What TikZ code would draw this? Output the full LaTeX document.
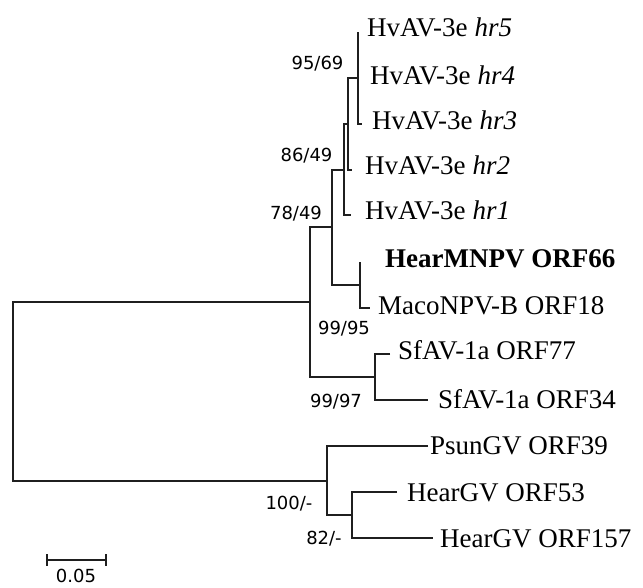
\documentclass[tikz,border=0pt]{standalone}
\usepackage{fontspec}
\setmainfont{Liberation Serif}
\newfontfamily\bootfont{DejaVu Sans}
\begin{document}
\begin{tikzpicture}[x=1pt,y=-1pt,
  br/.style={line width=2pt, draw=black!88, line join=miter},
  leaf/.style={anchor=base west, inner sep=0pt, font=\fontsize{27}{30}\selectfont},
  boot/.style={anchor=base, inner sep=0pt, font=\bootfont\fontsize{18}{20}\selectfont}]
\useasboundingbox[fill=white] (0,0) rectangle (643,587);
% internal nodes
\coordinate (A) at (358,78);
\coordinate (B) at (348,124);
\coordinate (C) at (344,169.5);
\coordinate (D) at (332,227);
\coordinate (F) at (360,285);
\coordinate (G) at (375,377);
\coordinate (E) at (310,302);
\coordinate (H) at (352,515);
\coordinate (I) at (327,480.5);
\coordinate (R) at (13,391);
% tips
\coordinate (t5) at (358,32);
\coordinate (t4) at (358,78);
\coordinate (t3) at (362,124);
\coordinate (t2) at (352,170);
\coordinate (t1) at (351,215);
\coordinate (tM) at (360,262);
\coordinate (tMa) at (370,308);
\coordinate (t77) at (390,354);
\coordinate (t34) at (428,400);
\coordinate (tP) at (428,446);
\coordinate (t53) at (397,492);
\coordinate (t157) at (433,538);
% branches
\draw[br] (t5) -| (A) |- (t3);
\draw[br] (A) -| (B) |- (t2);
\draw[br] (B) -| (C) |- (t1);
\draw[br] (C) -| (D) |- (F);
\draw[br] (tM) -| (F) |- (tMa);
\draw[br] (t77) -| (G) |- (t34);
\draw[br] (D) -| (E) |- (G);
\draw[br] (tP) -| (I) |- (H);
\draw[br] (t53) -| (H) |- (t157);
\draw[br] (E) -| (R) |- (I);
% leaf labels
\node[leaf] (l5) at (367,36) {HvAV-3e\hspace{7pt}\textit{hr5}};
\node[leaf] (l4) at (370,84) {HvAV-3e\hspace{7pt}\textit{hr4}};
\node[leaf] (l3) at (372,129) {HvAV-3e\hspace{7pt}\textit{hr3}};
\node[leaf] (l2) at (365,174) {HvAV-3e\hspace{7pt}\textit{hr2}};
\node[leaf] (l1) at (365,219) {HvAV-3e\hspace{7pt}\textit{hr1}};
\node[leaf] (lM) at (385,267) {\bfseries HearMNPV ORF66};
\node[leaf] (lMa) at (378,314) {MacoNPV-B ORF18};
\node[leaf] (l77) at (398,359) {SfAV-1a ORF77};
\node[leaf] (l34) at (438,408) {SfAV-1a ORF34};
\node[leaf] (lP) at (430,454) {PsunGV ORF39};
\node[leaf] (l53) at (407,501) {HearGV ORF53};
\node[leaf] (l157) at (440,547) {HearGV ORF157};
% bootstrap values
\node[boot] (bA) at (317.5,69.5) {95/69};
\node[boot] (bC) at (306.5,161.5) {86/49};
\node[boot] (bD) at (296,219.5) {78/49};
\node[boot] (bF) at (344,334.5) {99/95};
\node[boot] (bG) at (336,407.5) {99/97};
\node[boot] (bI) at (289,509.5) {100/-};
\node[boot] (bH) at (324,544.5) {82/-};
% scale bar
\coordinate (s1) at (47,560);
\coordinate (s2) at (106,560);
\draw[br] (s1) -- (s2);
\draw[br] ([yshift=6pt]s1) -- ([yshift=-6pt]s1);
\draw[br] ([yshift=6pt]s2) -- ([yshift=-6pt]s2);
\node[boot, font=\bootfont\fontsize{18}{20}\selectfont] (sl) at (76,582) {0.05};
\end{tikzpicture}
\end{document}
